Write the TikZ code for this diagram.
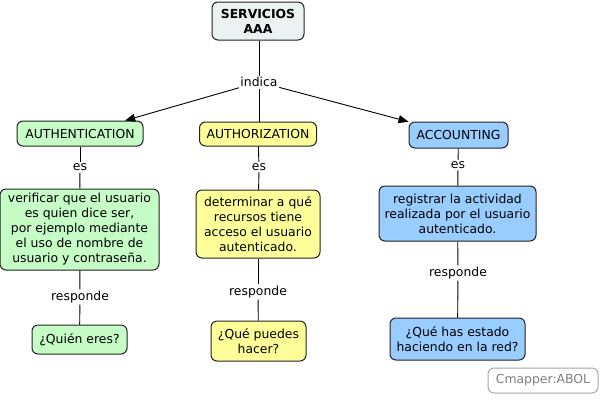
\documentclass[tikz,border=0pt]{standalone}
\usepackage{fontspec}
\setmainfont{DejaVu Sans}
\usetikzlibrary{arrows.meta}
\definecolor{cgreen}{HTML}{C6FDC6}
\definecolor{cyellow}{HTML}{FFFF99}
\definecolor{cblue}{HTML}{99CCFF}
\definecolor{ctitle}{HTML}{EAF2F2}
\definecolor{cborder}{HTML}{222222}
\begin{document}
\begin{tikzpicture}[x=1pt,y=-1pt,
  box/.style={draw=cborder, line width=1pt, rounded corners=6pt, align=center, inner sep=0pt,
    font=\fontsize{12.4}{15}\selectfont},
  lab/.style={fill=white, inner sep=1.5pt, font=\fontsize{12.4}{15}\selectfont},
  conn/.style={draw=black, line width=0.9pt},
  arr/.style={conn, -{Triangle[length=10pt,width=8pt]}}]
\useasboundingbox (0,0) rectangle (604,400);
\fill[white] (0,0) rectangle (604,400);
% concepts
\node[box, fill=ctitle, minimum width=92pt, minimum height=38pt, font=\bfseries\fontsize{12.4}{15}\selectfont] (srv) at (258,21) {SERVICIOS\\AAA};
\node[box, fill=cgreen, minimum width=126pt, minimum height=25pt] (authn) at (80,133.5) {AUTHENTICATION};
\node[box, fill=cyellow, minimum width=117pt, minimum height=24pt] (authz) at (258,134) {AUTHORIZATION};
\node[box, fill=cblue, minimum width=99pt, minimum height=26pt] (acct) at (458.5,135) {ACCOUNTING};
\node[box, fill=cgreen, minimum width=159pt, minimum height=81pt] (d1) at (79.5,229.5) {verificar que el usuario\\es quien dice ser,\\por ejemplo mediante\\el uso de nombre de\\usuario y contraseña.};
\node[box, fill=cyellow, minimum width=124pt, minimum height=68pt] (d2) at (258,224) {determinar a qué\\recursos tiene\\acceso el usuario\\autenticado.};
\node[box, fill=cblue, minimum width=157pt, minimum height=55pt] (d3) at (457.5,213.5) {registrar la actividad\\realizada por el usuario\\autenticado.};
\node[box, fill=cgreen, minimum width=95pt, minimum height=29pt] (q1) at (79.5,339.5) {¿Quién eres?};
\node[box, fill=cyellow, minimum width=95pt, minimum height=40pt] (q2) at (258.5,341) {¿Qué puedes\\hacer?};
\node[box, fill=cblue, minimum width=135pt, minimum height=42pt] (q3) at (457.5,339) {¿Qué has estado\\haciendo en la red?};
\node[box, fill=white, draw=gray!70, text=gray, minimum width=110pt, minimum height=25pt] (cm) at (543,380.5) {Cmapper:ABOL};
% linking phrases
\node[lab] (indica) at (259,82) {indica};
\node[lab] (es1) at (80,167) {es};
\node[lab] (es2) at (259,167) {es};
\node[lab] (es3) at (458,165) {es};
\node[lab] (r1) at (80,297) {responde};
\node[lab] (r2) at (258,292) {responde};
\node[lab] (r3) at (458,273) {responde};
% connectors
\draw[conn] (srv.south -| indica.north) -- (indica.north);
\draw[conn] (indica.south) -- (authz.north -| indica.south);
\draw[arr] (indica) -- (authn);
\draw[arr] (indica) -- (acct);
\draw[conn] (authn) -- (es1); \draw[conn] (es1) -- (d1);
\draw[conn] (authz) -- (es2); \draw[conn] (es2) -- (d2);
\draw[conn] (acct) -- (es3); \draw[conn] (es3) -- (d3);
\draw[conn] (d1) -- (r1); \draw[conn] (r1) -- (q1);
\draw[conn] (d2) -- (r2); \draw[conn] (r2) -- (q2);
\draw[conn] (d3) -- (r3); \draw[conn] (r3) -- (q3);
\end{tikzpicture}
\end{document}
